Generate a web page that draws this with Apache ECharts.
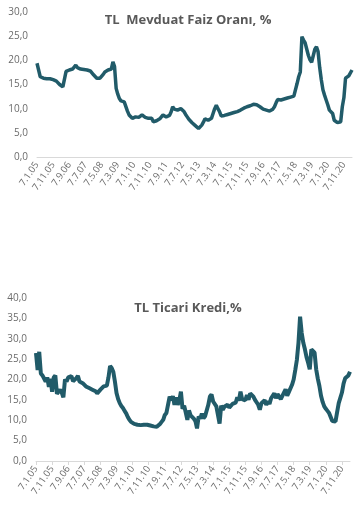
<!DOCTYPE html>
<html><head><meta charset="utf-8">
<script src="https://cdn.jsdelivr.net/npm/echarts@6/dist/echarts.min.js"></script>
<style>html,body{margin:0;padding:0;background:#fff}#c{width:363px;height:514px}</style>
</head><body><div id="c"></div>
<script>
// Monthly observations, Jan 2005 .. Apr 2021 (labelled 7.M.YY)
const startYear = 2005, monthsCount = 196;
const tickLabels = ["7.1.05","7.11.05","7.9.06","7.7.07","7.5.08","7.3.09","7.1.10","7.11.10","7.9.11","7.7.12","7.5.13","7.3.14","7.1.15","7.11.15","7.9.16","7.7.17","7.5.18","7.3.19","7.1.20","7.11.20"];

const mevduat = [
  19.4,18.0,16.6,16.4,16.3,16.3,16.2,16.3,16.2,16.1,16.0,16.0,
  15.7,15.3,15.0,14.8,14.5,14.2,17.7,18.0,18.0,18.1,18.2,18.6,
  19.0,18.5,18.3,18.2,18.2,18.1,18.0,18.0,18.0,17.8,17.6,17.0,
  16.6,16.3,16.3,16.3,16.6,17.1,17.6,17.8,18.0,18.0,18.2,19.7,
  18.7,14.2,13.0,12.1,11.6,11.4,11.4,11.0,9.5,8.7,8.5,8.0,
  8.2,8.3,8.6,8.2,8.6,8.7,8.5,8.2,8.3,8.0,8.2,8.0,
  7.3,7.4,7.5,7.6,7.9,8.3,8.7,8.5,8.3,8.4,8.6,9.3,
  10.4,9.9,9.7,9.7,9.8,10.0,10.2,9.4,8.8,8.3,7.8,7.4,
  7.1,6.8,6.5,6.3,5.9,5.8,6.6,7.2,7.9,7.7,7.6,7.8,
  8.0,9.0,10.0,10.7,10.0,9.4,8.5,8.6,8.6,8.7,8.8,8.9,
  9.0,9.1,9.2,9.3,9.4,9.6,9.7,9.9,10.1,10.3,10.4,10.6,
  10.6,10.8,10.9,11.0,10.8,10.7,10.4,10.0,9.9,9.8,9.7,9.6,
  9.5,9.4,9.9,10.4,11.2,11.9,11.8,11.8,11.9,12.0,12.1,12.2,
  12.3,12.4,12.5,12.6,12.8,15.2,16.6,17.6,24.9,24.2,23.6,22.3,
  21.0,20.1,19.6,19.4,22.3,22.8,21.8,18.5,16.0,13.9,12.8,11.8,
  10.8,9.7,9.3,9.0,7.6,7.3,7.1,7.2,7.3,10.4,12.3,16.3,
  16.0,16.8,17.0,18.0
];

const ticari = [
  26.5,22.3,26.8,21.5,21.0,20.9,19.5,20.5,18.2,20.2,17.0,20.5,
  21.0,16.5,16.2,17.5,16.8,15.6,20.0,19.5,20.5,20.3,20.8,19.6,
  19.9,20.3,20.9,19.5,19.8,19.1,18.9,18.3,18.6,17.9,17.6,17.5,
  17.3,17.1,16.6,17.0,17.5,17.9,18.3,18.3,18.5,20.5,23.3,22.8,
  21.9,19.5,16.7,15.2,14.2,13.5,13.0,12.3,11.7,10.8,10.1,9.6,
  9.2,9.1,9.0,8.9,8.8,8.8,9.0,8.9,9.1,8.9,8.8,8.7,
  8.6,8.5,8.4,8.4,8.7,9.1,9.6,10.1,11.3,11.8,12.1,15.8,
  14.9,15.9,13.8,15.6,13.8,14.9,17.0,12.8,13.6,11.9,10.1,12.4,
  11.2,10.9,10.4,9.8,8.0,10.9,10.4,11.6,10.5,11.0,11.2,13.8,
  15.8,16.3,14.6,14.6,13.4,13.8,9.2,13.6,12.6,13.3,12.9,13.8,
  13.1,13.5,14.0,14.4,14.3,15.6,14.8,17.0,15.2,15.6,14.9,16.2,
  15.0,16.6,16.2,15.8,15.0,15.2,13.8,12.6,14.2,14.0,14.9,13.8,
  14.6,14.0,15.4,15.2,16.6,15.4,16.4,16.2,15.2,16.0,16.0,17.6,
  16.0,16.9,17.3,18.7,20.0,22.3,24.8,29.0,35.4,31.4,29.0,27.4,
  25.5,24.1,22.5,27.4,27.6,26.6,22.5,20.2,18.4,16.0,14.5,13.4,
  12.8,12.3,11.8,11.4,9.8,9.6,9.7,12.0,14.2,15.5,16.8,19.0,
  20.3,19.9,21.0,21.9
];

const categories = [];
for (let i = 0; i < monthsCount; i++) {
  const y = startYear + Math.floor(i / 12), m = (i % 12) + 1;
  categories.push('7.' + m + '.' + String(y % 100).padStart(2, '0'));
}

const lineColor = '#215B69';
const txt = '#6b6b6b';
const fmt = v => v.toFixed(1).replace('.', ',');
const FONT = 'Open Sans';

const xBase = (showTick) => ({
  type: 'category', data: categories, boundaryGap: false,
  axisLine: {lineStyle: {color: '#d9d9d9', width: 1}},
  axisTick: {show: showTick, interval: 9, length: 4, lineStyle: {color: '#d9d9d9'}},
  axisLabel: {
    interval: 9, rotate: 55, color: txt, fontSize: 9.5, fontFamily: FONT, margin: 6,
    formatter: v => tickLabels.includes(v) ? v : ''
  }
});
const yBase = (max) => ({
  type: 'value', min: 0, max: max, interval: 5,
  splitLine: {show: false}, axisLine: {show: false}, axisTick: {show: false},
  axisLabel: {color: txt, fontSize: 10, fontFamily: FONT, margin: 9, formatter: fmt}
});

const chart = echarts.init(document.getElementById('c'), null, {renderer: 'canvas'});
chart.setOption({
  animation: false,
  backgroundColor: '#fff',
  title: [
    {text: 'TL  Mevduat Faiz Oranı, %', left: 183, top: 9, textAlign: 'center',
     textStyle: {color: '#595959', fontSize: 13, fontWeight: 'bold', fontFamily: FONT}},
    {text: 'TL Ticari Kredi,%', left: 183, top: 297, textAlign: 'center',
     textStyle: {color: '#595959', fontSize: 13, fontWeight: 'bold', fontFamily: FONT}}
  ],
  grid: [
    {left: 37, right: 11, top: 12, height: 145},
    {left: 36, right: 13, top: 298, height: 163}
  ],
  xAxis: [Object.assign(xBase(false), {gridIndex: 0}), Object.assign(xBase(true), {gridIndex: 1})],
  yAxis: [Object.assign(yBase(30), {gridIndex: 0}), Object.assign(yBase(40), {gridIndex: 1})],
  series: [
    {type: 'line', xAxisIndex: 0, yAxisIndex: 0, data: mevduat, symbol: 'none',
     lineStyle: {color: lineColor, width: 3.5}},
    {type: 'line', xAxisIndex: 1, yAxisIndex: 1, data: ticari, symbol: 'none',
     lineStyle: {color: lineColor, width: 4}}
  ]
});
</script></body></html>
